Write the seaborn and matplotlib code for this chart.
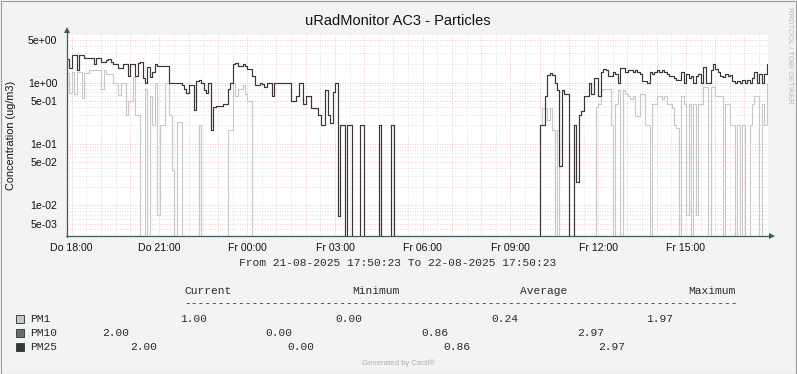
import numpy as np
import pandas as pd
import matplotlib
matplotlib.use("Agg")
import matplotlib.pyplot as plt
import seaborn as sns
from matplotlib.lines import Line2D
from matplotlib.patches import Rectangle

# ---------------- data (5-minute steps from 21-08-2025 17:50:23) ----------------
step_minutes = 5
pm25 = [
    2.4, 1.75, 2.85, 2.85, 1.6, 2.85, 2.85, 2.5, 2.5, 2.5,
    2.5, 2.0, 2.5, 2.5, 2.2, 2.2, 2.3, 2.4, 2.2, 2.0,
    2.0, 1.75, 1.75, 2.0, 2.0, 1.3, 2.0, 2.0, 1.3, 2.1,
    2.2, 1.2, 1.0, 1.8, 1.25, 1.5, 2.0, 1.9, 1.9, 1.9,
    1.9, 1.9, 1.0, 1.0, 1.0, 1.0, 1.0, 0.9, 0.8, 0.69,
    0.9, 0.9, 0.36, 1.05, 1.1, 1.0, 0.75, 0.69, 1.0, 0.17,
    0.4, 0.42, 0.42, 0.42, 0.45, 0.45, 0.8, 1.0, 2.0, 2.1,
    1.9, 1.9, 2.0, 1.9, 1.7, 1.7, 1.3, 0.9, 0.9, 1.0,
    0.95, 0.85, 1.0, 1.0, 0.6, 1.0, 1.0, 1.0, 1.0, 1.0,
    1.0, 1.0, 0.5, 0.5, 0.6, 1.0, 1.0, 0.45, 0.6, 0.6,
    0.38, 0.38, 0.38, 0.3, 0.2, 0.2, 0.77, 0.3, 0.22, 0.7,
    1.0, 0.0067, 0.2, 0.2, 0, 0.2, 0.2, 0, 0, 0,
    0.2, 0.2, 0, 0, 0, 0, 0, 0, 0.2, 0,
    0, 0, 0, 0.2, 0, 0, 0, 0, 0, 0,
    0, 0, 0, 0, 0, 0, 0, 0, 0, 0,
    0, 0, 0, 0, 0, 0, 0, 0, 0, 0,
    0, 0, 0, 0, 0, 0, 0, 0, 0, 0,
    0, 0, 0, 0, 0, 0, 0, 0, 0, 0,
    0, 0, 0, 0, 0, 0, 0, 0, 0, 0,
    0, 0, 0, 0,
    0.2, 0.2, 0.6, 1.35, 1.45, 1.35,
    1.0, 0.75, 0.044, 0.75, 0.65, 0.65, 0, 0, 0.2, 0.024,
    0.3, 0.35, 0.6, 0.6, 1.0, 0.65, 1.2, 1.2, 0.6, 1.5,
    1.7, 1.6, 1.3, 1.3, 1.5, 1.4, 1.0, 1.75, 1.75, 1.5,
    1.6, 1.6, 1.5, 1.6, 1.5, 1.4, 1.05, 1.05, 1.0, 1.5,
    1.4, 1.5, 1.6, 1.5, 1.6, 1.5, 1.4, 1.3, 1.3, 1.2,
    1.1, 1.1, 1.5, 1.0, 1.4, 1.2, 1.3, 1.0, 1.3, 1.4,
    1.0, 1.8, 1.0, 1.0, 1.6, 2.0, 1.7, 1.5, 1.3, 1.25,
    1.4, 1.3, 1.35, 1.05, 1.0, 1.05, 1.0, 1.1, 1.0, 1.1,
    1.0, 1.2, 1.5, 1.0, 1.4, 1.0, 1.4, 2.0,
]
pm1 = [
    1.45, 0.68, 1.5, 0.65, 1.5, 1.5, 0.57, 1.45, 1.45, 1.6,
    1.6, 1.6, 1.6, 1.6, 0.8, 1.6, 1.4, 1.4, 1.4, 1.0,
    1.0, 0.63, 1.0, 1.0, 0.3, 0.5, 0.5, 1.25, 0.3, 0.3,
    0, 0, 0.8, 0, 0.6, 0.2, 1.0, 0.007, 0.2, 0.2,
    1.0, 1.0, 0.3, 0.038, 0, 0.23, 0.23, 0, 0, 0,
    0, 0, 0, 0, 0.2, 0, 0, 0, 0, 0,
    0, 0, 0, 0, 0, 0, 0.17, 0.17, 1.0, 0.6,
    0.8, 0.8, 0.9, 0.65, 0.5, 0.5, 0, 0, 0, 0,
    0, 0, 0, 0, 0, 0, 0, 0, 0, 0,
    0, 0, 0, 0, 0, 0, 0, 0, 0, 0,
    0, 0, 0, 0, 0, 0, 0, 0, 0, 0,
    0, 0, 0, 0, 0, 0, 0, 0, 0, 0,
    0, 0, 0, 0, 0, 0, 0, 0, 0, 0,
    0, 0, 0, 0, 0, 0, 0, 0, 0, 0,
    0, 0, 0, 0, 0, 0, 0, 0, 0, 0,
    0, 0, 0, 0, 0, 0, 0, 0, 0, 0,
    0, 0, 0, 0, 0, 0, 0, 0, 0, 0,
    0, 0, 0, 0, 0, 0, 0, 0, 0, 0,
    0, 0, 0, 0, 0, 0, 0, 0, 0, 0,
    0, 0, 0, 0,
    0.2, 0.39, 0.39, 0.25, 0.39, 0.17,
    0, 0.17, 0, 0, 0, 0, 0, 0, 0, 0,
    0, 0, 0, 0, 0, 0, 0, 0.4, 0.45, 0.75,
    0.8, 0.8, 0.8, 0.2, 0, 0.45, 0.75, 0, 0.75, 0.65,
    0.6, 0.55, 0.6, 0.28, 0.28, 0.65, 0.65, 0.2, 0.2, 0,
    0.45, 0.45, 0.6, 0.6, 0.55, 0.6, 0.45, 0.45, 0.38, 0.2,
    0.18, 0, 0.6, 0.45, 0.007, 0.45, 0, 0.45, 0.007, 0.45,
    0.45, 0.85, 0.85, 0, 0.85, 0.85, 0.6, 0.6, 0.6, 0,
    0.45, 0.45, 0.2, 0.2, 0, 0.2, 0, 0.2, 0, 0,
    0.2, 0.45, 0.6, 0.6, 0, 0.45, 0.2, 1.0,
]
# PM10 readings coincide with PM2.5 over the whole period (hidden behind it)
pm10 = list(pm25)

series_names = ["PM1", "PM10", "PM25"]
series_colors = ["#c8c8c8", "#6e6e6e", "#3b3535"]
legend_current = ["1.00", "2.00", "2.00"]
legend_minimum = ["0.00", "0.00", "0.00"]
legend_average = ["0.24", "0.86", "0.86"]
legend_maximum = ["1.97", "2.97", "2.97"]

ytick_values = [5e0, 1e0, 5e-1, 1e-1, 5e-2, 1e-2, 5e-3]
ytick_labels = ["5e+00", "1e+00", "5e-01", "1e-01", "5e-02", "1e-02", "5e-03"]
xtick_labels = ["Do 18:00", "Do 21:00", "Fr 00:00", "Fr 03:00",
                "Fr 06:00", "Fr 09:00", "Fr 12:00", "Fr 15:00"]
first_full_hour_offset = 9 + 37 / 60  # minutes from 17:50:23 to 18:00
title = "uRadMonitor AC3 - Particles"
ylabel = "Concentration (ug/m3)"
period_text = "From 21-08-2025 17:50:23 To 22-08-2025 17:50:23"

# ---------------- figure ----------------
W, H = 797, 374
sns.set_style("white")
plt.rcParams["font.family"] = ["Liberation Sans", "DejaVu Sans"]
fig = plt.figure(figsize=(W / 100, H / 100), dpi=100)
fig.patch.set_facecolor("#f3f3f3")

def fx(x):
    return x / W

def fy(y):
    return 1 - y / H

L, R, T, B = 67, 768, 35, 236
ax = fig.add_axes([fx(L), fy(B), fx(R) - fx(L), fy(T) - fy(B)])
ax.set_facecolor("white")

n = len(pm25)
minutes = [i * step_minutes for i in range(n)]
frames = []
for name, vals in zip(series_names, [pm1, pm10, pm25]):
    frames.append(pd.DataFrame({"t": minutes, "v": vals, "series": name}))
df = pd.concat(frames, ignore_index=True)
# zero cannot be shown on a log axis: rrdtool draws it on the bottom edge
df["plotv"] = df["v"].where(df["v"] > 0, 1e-6)

sns.lineplot(data=df, x="t", y="plotv", hue="series", hue_order=series_names,
             palette=dict(zip(series_names, series_colors)), estimator=None,
             drawstyle="steps-post", linewidth=0.8, legend=False, ax=ax)

ax.set_yscale("log")
ax.set_ylim(3.13e-3, 6.0)
ax.set_xlim(0, 1440 * 700 / 701)

# grid
maj_x = [first_full_hour_offset + 60 * k for k in range(24)]
min_x = [first_full_hour_offset + 30 + 60 * k for k in range(24)]
grid_minor = "#d6d6d6"
grid_major = "#efb4b4"
for x in min_x:
    ax.axvline(x, color=grid_minor, lw=0.6, ls=(0, (1, 2)), zorder=0)
for x in maj_x:
    ax.axvline(x, color=grid_major, lw=0.6, ls=(0, (1, 2)), zorder=0)
for dec in [1e-3, 1e-2, 1e-1, 1e0]:
    for m in [2, 3, 4, 6, 7, 8, 9]:
        v = m * dec
        if 3.13e-3 < v < 6.0:
            ax.axhline(v, color=grid_minor, lw=0.6, ls=(0, (1, 2)), zorder=0)
for v in ytick_values:
    ax.axhline(v, color=grid_major, lw=0.6, ls=(0, (1, 2)), zorder=0)

ax.set_yticks(ytick_values)
ax.set_yticklabels(ytick_labels)
ax.yaxis.set_minor_locator(matplotlib.ticker.NullLocator())
ax.set_xticks([first_full_hour_offset + 180 * k for k in range(len(xtick_labels))])
ax.set_xticklabels(xtick_labels)
ax.tick_params(axis="both", which="major", length=2.5, width=0.7,
               color="#3d5c57", labelsize=7.6, labelcolor="#111111")
ax.tick_params(axis="y", pad=4.5)
ax.tick_params(axis="x", pad=2.5)
ax.set_xlabel("")
ax.set_ylabel("")
for s in ax.spines.values():
    s.set_visible(False)

# axis lines with arrows
axis_col = "#3d5c57"
fig.add_artist(Line2D([fx(L), fx(L)], [fy(B + 1), fy(31)], color=axis_col, lw=0.9))
fig.add_artist(Line2D([fx(L - 1), fx(771)], [fy(B), fy(B)], color=axis_col, lw=0.9))
fig.add_artist(Line2D([fx(L)], [fy(30)], marker="^", markersize=4, color=axis_col,
                      markeredgewidth=0))
fig.add_artist(Line2D([fx(772)], [fy(B)], marker=">", markersize=4, color=axis_col,
                      markeredgewidth=0))

# texts
fig.text(fx(398), fy(21), title, ha="center", va="center", fontsize=10.5, color="#111111")
fig.text(fx(11), fy(135), ylabel, ha="center", va="center", rotation=90,
         fontsize=7.8, color="#111111")
fig.text(fx(789), fy(55), "RRDTOOL / TOBI OETIKER", ha="center", va="center",
         rotation=270, fontsize=5.5, color="#b8b8b8")

mono = ["Liberation Mono", "DejaVu Sans Mono"]
ms = 8.1
txt_col = "#2a2a2a"
fig.text(fx(398), fy(263), period_text, ha="center", va="center", family=mono,
         fontsize=ms, color=txt_col)
for label, x in zip(["Current", "Minimum", "Average", "Maximum"], [184, 352, 520, 688]):
    fig.text(fx(x), fy(291), label, ha="left", va="center", family=mono, fontsize=ms,
             color=txt_col)
fig.text(fx(184), fy(303), "-" * 82, ha="left", va="center", family=mono, fontsize=ms,
         color=txt_col)

row_y = [318.5, 332.5, 346.5]
row_x = [[180, 335, 491, 646], [102, 265, 421, 577], [130, 287, 443, 598]]
for k, name in enumerate(series_names):
    y = row_y[k]
    fig.add_artist(Rectangle((fx(15.5), fy(y + 4)), 8 / W, 8 / H, transform=fig.transFigure,
                             facecolor=series_colors[k], edgecolor="#2e4a44", lw=0.7))
    fig.text(fx(30), fy(y), name, ha="left", va="center", family=mono, fontsize=ms,
             color=txt_col)
    vals = [legend_current[k], legend_minimum[k], legend_average[k], legend_maximum[k]]
    for v, x in zip(vals, row_x[k]):
        fig.text(fx(x), fy(y), v, ha="left", va="center", family=mono, fontsize=ms,
                 color=txt_col)

fig.text(fx(398), fy(363), "Generated by Cacti\u00ae", ha="center", va="center",
         fontsize=5.6, color="#b0b0b0")

# outer border
fig.add_artist(Rectangle((0.5 / W, 0.5 / H), 1 - 1.5 / W, 1 - 1.5 / H,
                         transform=fig.transFigure, fill=False, edgecolor="#9c9c9c", lw=0.8))

fig.savefig("out.png", dpi=100, facecolor=fig.get_facecolor())
